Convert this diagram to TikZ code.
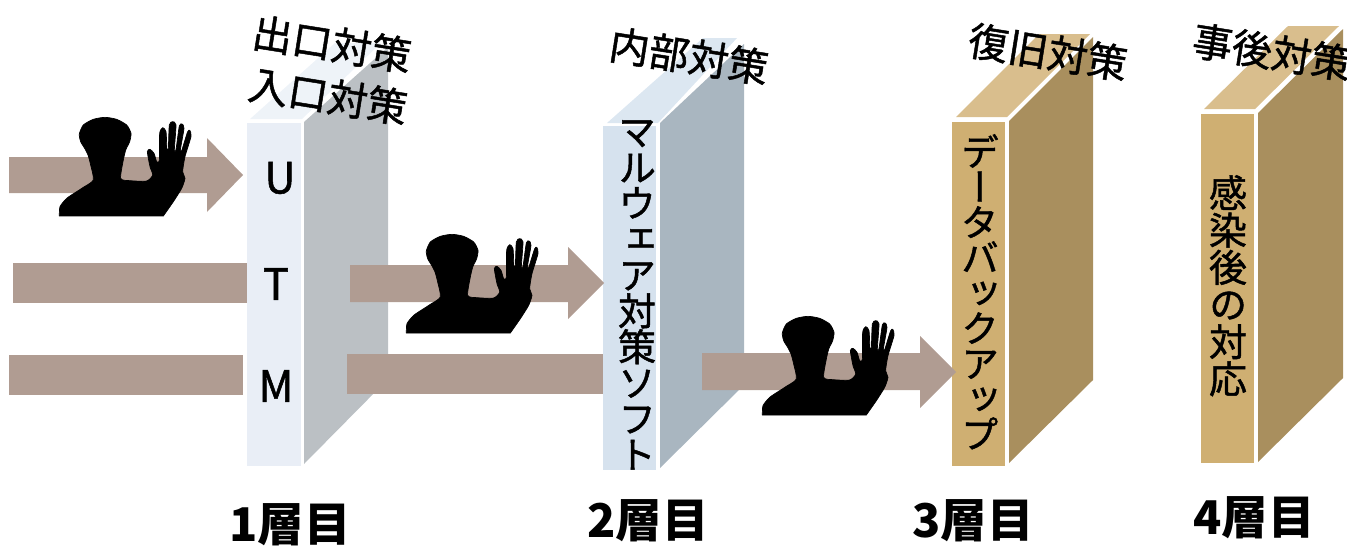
\documentclass[tikz,border=0pt]{standalone}
\usepackage{fontspec}
\setmainfont{Noto Sans CJK JP}
\newfontfamily\heavyfont[FakeBold=1.2]{Noto Sans CJK JP}
\newfontfamily\vertfont[RawFeature={+vert},FakeBold=1.2]{Noto Sans CJK JP}
\definecolor{flow}{HTML}{B09C92}
\definecolor{aFront}{HTML}{E9EEF6}
\definecolor{aTop}{HTML}{EEF3F8}
\definecolor{aSide}{HTML}{BBC0C4}
\definecolor{bFront}{HTML}{D6E2EE}
\definecolor{bTop}{HTML}{DCE7F1}
\definecolor{bSide}{HTML}{A9B6C0}
\definecolor{cFront}{HTML}{CFAF72}
\definecolor{cTop}{HTML}{D9BE8D}
\definecolor{cSide}{HTML}{A98F5E}
\tikzset{
  x=1pt,y=-1pt,
  titletext/.style={inner sep=0pt,rotate=-9,font=\fontsize{40}{40}\heavyfont},
  layertext/.style={inner sep=0pt,font=\fontsize{46.5}{46.5}\selectfont\bfseries},
  utmtext/.style={inner sep=0pt,font=\fontsize{43}{43}\heavyfont},
  verttext/.style={inner sep=0pt,align=center,font=\fontsize{38}{35.3}\vertfont},
  officer/.pic={
    \begin{scope}[x=0.33333pt,y=-0.33333pt,shift={(150,330)}]
    \filldraw[black,line width=0.7pt,line join=round] plot[smooth,tension=.4] coordinates {(28,318)(30,290)(50,265)(80,245)(100,232)(130,210)(122,165)(114,135)(104,115)(92,95)(88,72)(100,45)(130,28)(165,22)(200,28)(230,45)(243,70)(239,95)(228,118)(221,145)(212,205)(240,212)(290,213)(308,195)(300,170)(292,125)(300,118)(312,130)(320,155)(328,150)(329,70)(338,53)(348,65)(351,120)(355,115)(358,45)(368,35)(378,45)(373,120)(378,118)(388,48)(396,42)(402,55)(391,120)(395,122)(413,65)(420,62)(423,80)(405,140)(398,185)(405,205)(395,235)(370,275)(340,318)} -- cycle;
    \end{scope}
  }
}
\begin{document}
\begin{tikzpicture}
\useasboundingbox (0,0) rectangle (1347,546);
% layer 1
\fill[aTop] (250,119) -- (302,119) -- (381,43) -- (335,43) -- cycle;
\fill[aSide] (304,122) -- (388,47) -- (388,379) -- (304,464) -- cycle;
\fill[aFront] (247,123) rectangle (301,466);
% layer 2
\fill[bTop] (607,123) -- (658,123) -- (737,38) -- (703,38) -- cycle;
\fill[bSide] (660,123) -- (744,44) -- (744,385) -- (660,468) -- cycle;
\fill[bFront] (603,126) rectangle (656,470);
% layer 3
\fill[cTop] (956,117) -- (1007,117) -- (1090,34) -- (1039,34) -- cycle;
\fill[cSide] (1009,121) -- (1093,37) -- (1093,380) -- (1009,463) -- cycle;
\fill[cFront] (952,122) rectangle (1005,466);
% layer 4
\fill[cTop] (1204,109) -- (1255,109) -- (1339,26) -- (1288,26) -- cycle;
\fill[cSide] (1258,113) -- (1343,29) -- (1343,378) -- (1258,462) -- cycle;
\fill[cFront] (1201,114) rectangle (1254,463);
% flows
\fill[flow] (9,157) -- (207,157) -- (207,138) -- (243,175) -- (207,212) -- (207,193) -- (9,193) -- cycle;
\fill[flow] (13,263) rectangle (247,303);
\fill[flow] (9,355) rectangle (243,395);
\fill[flow] (350,265) -- (568,265) -- (568,247) -- (604,283) -- (568,319) -- (568,302) -- (350,302) -- cycle;
\fill[flow] (347,354) rectangle (603,394);
\fill[flow] (702,353) -- (920,353) -- (920,336) -- (956,372) -- (920,408) -- (920,390) -- (702,390) -- cycle;
% officers
\pic at (0,0) {officer};
\pic at (347,117) {officer};
\pic at (703,199) {officer};
% titles
\node[titletext] (t1a) at (332,44) {出口対策};
\node[titletext] (t1b) at (328,96) {入口対策};
\node[titletext] (t2) at (689,56) {内部対策};
\node[titletext] (t3) at (1048,52) {復旧対策};
\node[titletext] (t4) at (1272,52) {事後対策};
% UTM
\node[utmtext] (u) at (280,178) {U};
\node[utmtext] (t) at (276,284) {T};
\node[utmtext] (m) at (276,386) {M};
% vertical
\node[verttext,font=\fontsize{38}{35.9}\vertfont,anchor=north] (v2) at (637,120) {マ\\ル\\ウ\\ェ\\ア\\対\\策\\ソ\\フ\\ト};
\node[verttext,anchor=north] (v3) at (980,134) {デ\\ー\\タ\\バ\\ッ\\ク\\ア\\ッ\\プ};
\node[verttext,font=\fontsize{38}{37.2}\vertfont,anchor=north] (v4) at (1228,175) {感\\染\\後\\の\\対\\応};
% layer labels
\node[layertext] (l1) at (290,525) {1層目};
\node[layertext] (l2) at (648,521) {2層目};
\node[layertext] (l3) at (973,521) {3層目};
\node[layertext] (l4) at (1254,518) {4層目};
\end{tikzpicture}
\end{document}
